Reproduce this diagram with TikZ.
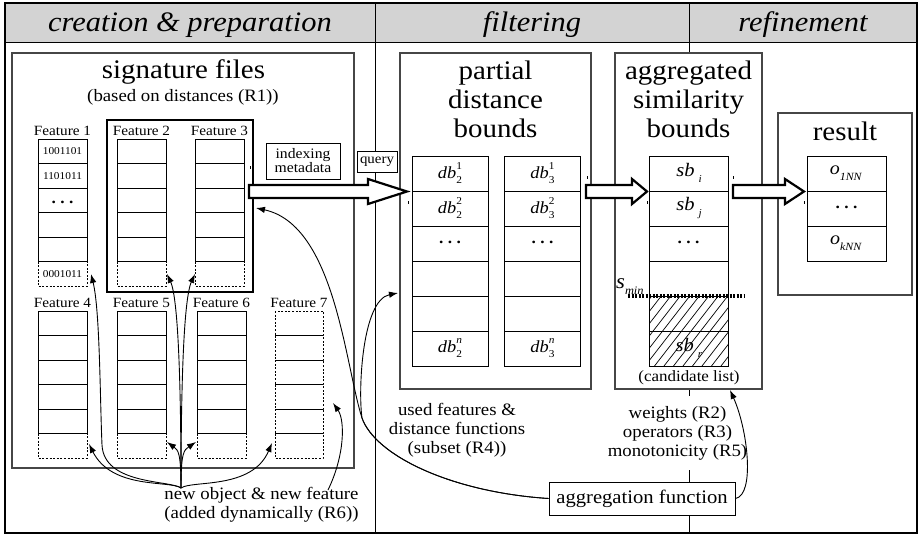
\documentclass[tikz,border=0pt]{standalone}
\usepackage{fontspec}
\setmainfont[FakeStretch=1.08]{Liberation Serif}
\usetikzlibrary{arrows.meta,calc}
\definecolor{hdr}{RGB}{211,211,211}
\definecolor{pline}{RGB}{70,70,70}
\newcommand\fsz[2]{\fontsize{#1}{#2}\selectfont}
\newcommand\dbv[2]{\textit{db}\rlap{\raisebox{0.5em}{\fsz{10.5}{10.5}#2}}\raisebox{-0.3em}{\fsz{10.5}{10.5}#1}}
\newcommand\sbv[1]{\textit{sb}\hspace{4pt}\raisebox{-0.35em}{\fsz{10.5}{10.5}\textit{#1}}}
\newcommand\onn[1]{\textit{o}\raisebox{-0.3em}{\fsz{11}{11}\textit{#1}}}
\newcommand\dotsx{\textbf{.\hspace{0.28em}.\hspace{0.28em}.}}
\begin{document}
\begin{tikzpicture}[x=1pt,y=-1pt,
  thinl/.style={line width=1pt},
  cell/.style={draw,line width=1pt},
  dcell/.style={draw,line width=0.9pt,dash pattern=on 2pt off 1.6pt},
  panel/.style={draw=pline,line width=1.2pt,fill=white,inner sep=0pt,outer sep=0pt},
  hdrtxt/.style={font=\fsz{28.2}{30}\itshape,inner sep=0pt},
  ttl/.style={font=\fsz{26.8}{28.5},inner sep=0pt},
  subt/.style={font=\fsz{17.4}{18},inner sep=0pt},
  flabel/.style={font=\fsz{14.1}{14},inner sep=0pt},
  bits/.style={font=\fsz{10.5}{10},inner sep=0pt},
  dts/.style={font=\fsz{16}{16},inner sep=0pt},
  cval/.style={font=\fsz{17}{17},inner sep=0pt},
  btxt/.style={font=\fsz{17.4}{19},align=center,inner sep=0pt},
  conn/.style={-{Latex[length=9pt,width=6.5pt]},line width=0.9pt},
  hollow/.style={draw,line width=2.2pt,fill=white,line join=miter},
  tick/.style={line width=0.8pt}
]
\useasboundingbox (0,0) rectangle (919,535);
% header and frame
\fill[hdr] (5,3) rectangle (917,43);
\draw[thinl] (375,3) -- (375,533);
\draw[thinl] (689,3) -- (689,533);
\draw[thinl] (5,43) -- (917,43);
\draw[line width=1.2pt] (5,3) rectangle (917,533);
\node[hdrtxt,anchor=base] (hc) at (190,32) {creation \& preparation};
\node[hdrtxt,anchor=base] (hf) at (532,32) {filtering};
\node[hdrtxt,anchor=base] (hr) at (803,32) {refinement};

% signature files panel
\node[panel,minimum width=342,minimum height=415] (sig) at (183,260.5) {};
\node[ttl,anchor=base] (sigt) at (183.5,78) {signature files};
\node[subt,anchor=base] (sigs) at (183,102) {(based on distances (R1))};
\foreach \x/\y/\n in {38/139/1, 117/139/2, 195/139/3, 38/311/4, 117/311/5, 197/311/6} {
  \draw[dcell] (\x,\y+122.5) rectangle ++(49,24.5);
  \foreach \k in {0,...,4} \draw[cell] (\x,\y+\k*24.5) rectangle ++(49,24.5);
  \node[flabel,anchor=base] (f\n) at (\x+24.5,\y-3.5) {Feature \n};
}
\foreach \k in {0,...,5} \draw[dcell] (275,311+\k*24.5) rectangle ++(48,24.5);
\node[flabel,anchor=base] (f7) at (299,307.5) {Feature 7};
\node[bits] (b1) at (62.5,151.5) {1001101};
\node[bits] (b2) at (62.5,176) {1101011};
\node[dts,anchor=base] (b3) at (62.5,203) {\dotsx};
\node[bits] (b4) at (62.5,274) {0001011};
\node[draw,line width=2.6pt,minimum width=146,minimum height=172,inner sep=0pt] (sel) at (180,206) {};
\node[draw,thinl,fill=white,minimum width=74,minimum height=36,inner sep=0pt,align=center,font=\fsz{14.5}{14}] (idx) at (303,161) {indexing\\metadata};
\node[draw,thinl,fill=white,minimum width=40,minimum height=21,inner sep=0pt,font=\fsz{13.8}{13}] (qry) at (377,161.5) {query};

% partial distance bounds
\node[panel,minimum width=191,minimum height=336] (part) at (495.5,221) {};
\node[ttl,anchor=base] (pt1) at (495.5,80) {partial};
\node[ttl,anchor=base] (pt2) at (495.5,108.5) {distance};
\node[ttl,anchor=base] (pt3) at (495.5,137) {bounds};
\foreach \x in {412,504} \foreach \k in {0,...,5} \draw[cell] (\x,156+\k*35) rectangle ++(76.5,35);
\node[cval] (d21) at (450,173) {\dbv{2}{1}};
\node[cval] (d22) at (450,208) {\dbv{2}{2}};
\node[dts,anchor=base] (d2d) at (450,243) {\dotsx};
\node[cval] (d2n) at (450,348) {\dbv{2}{\textit{n}}};
\node[cval] (d31) at (542.5,173) {\dbv{3}{1}};
\node[cval] (d32) at (542.5,208) {\dbv{3}{2}};
\node[dts,anchor=base] (d3d) at (542.5,243) {\dotsx};
\node[cval] (d3n) at (542.5,348) {\dbv{3}{\textit{n}}};

% aggregated similarity bounds
\node[panel,minimum width=147,minimum height=336] (agg) at (688.5,221) {};
\node[ttl,anchor=base] (at1) at (688.5,80) {aggregated};
\node[ttl,anchor=base] (at2) at (688.5,108.5) {similarity};
\node[ttl,anchor=base] (at3) at (688.5,137) {bounds};
\begin{scope}
  \clip (649,296) rectangle (728,366);
  \foreach \i in {-80,-70.5,...,90} \draw[line width=0.7pt] (649+\i,366) -- ++(62,-80);
\end{scope}
\foreach \k in {0,...,5} \draw[cell] (649,156+\k*35) rectangle ++(79,35);
\node[font=\fsz{19}{19},inner sep=0pt] (sbi) at (689,173) {\sbv{i}};
\node[font=\fsz{19}{19},inner sep=0pt] (sbj) at (689,208) {\sbv{j}};
\node[dts,anchor=base] (sbd) at (688.5,243) {\dotsx};
\node[font=\fsz{19}{19},inner sep=0pt] (sbr) at (689,348) {\sbv{r}};
\node[anchor=base west,inner sep=0pt] (smin) at (616,288) {\fsz{21}{21}\textit{s}\raisebox{-0.3em}{\fsz{11.5}{11.5}\textit{min}}};
\draw[line width=3.5pt,dash pattern=on 2.2pt off 1.3pt] (628,296) -- (745,296);
\node[font=\fsz{15.7}{15},anchor=base,inner sep=0pt] (cand) at (689,381) {(candidate list)};

% result
\node[panel,minimum width=134,minimum height=182] (res) at (845,204) {};
\node[ttl,anchor=base] (rt) at (845,140) {result};
\foreach \k in {0,...,2} \draw[cell] (807,156+\k*35) rectangle ++(79,35);
\node[font=\fsz{18.5}{18},inner sep=0pt] (o1) at (846,173) {\onn{1NN}};
\node[dts,anchor=base] (od) at (846.5,208) {\dotsx};
\node[font=\fsz{18.5}{18},inner sep=0pt] (ok) at (846,243) {\onn{kNN}};

% hollow arrows
\draw[hollow] (249,185) -- (368,185) -- (368,179) -- (407,191.5) -- (368,204) -- (368,198) -- (249,198) -- cycle;
\draw[hollow] (586,185) -- (632,185) -- (632,179) -- (647,191.5) -- (632,204) -- (632,198) -- (586,198) -- cycle;
\draw[hollow] (733,185) -- (785,185) -- (785,179) -- (804,191.5) -- (785,204) -- (785,198) -- (733,198) -- cycle;
% tiny ticks
\foreach \tx/\ty in {250/166, 408/201, 587/176, 647/201, 733/176, 804/201}
  \draw[tick] (\tx,\ty) -- ++(0,3);

% bottom texts
\node[btxt] (usedf) at (457,430) {used features \&\\distance functions\\(subset (R4))};
\node[btxt,fill=white,inner ysep=10pt,inner xsep=2pt] (wts) at (677.5,433) {weights (R2)\\operators (R3)\\monotonicity (R5)};
\node[draw,thinl,fill=white,minimum width=186,minimum height=33,inner sep=0pt,font=\fsz{19.1}{18}] (aggf) at (642,498.5) {aggregation function};
\node[btxt] (newt) at (261.5,505) {new object \& new feature\\(added dynamically (R6))};

% connectors
\coordinate (fork) at (362,418);
\coordinate (tsig) at (256,208);
\coordinate (tpart) at (398,293);
\coordinate (taggb) at (730,390);
\draw[conn] (aggf.west) .. controls (450,492) and (375,455) .. (fork) .. controls (345,365) and (335,225) .. (tsig);
\draw[conn] (aggf.west) .. controls (450,492) and (375,455) .. (fork) .. controls (358,390) and (362,300) .. (tpart);
\draw[conn] (aggf.east) .. controls (755,495) and (748,430) .. (taggb);

\coordinate (stem) at (181,488);
\coordinate (nf1) at (91,274);
\coordinate (nf2) at (167,274);
\coordinate (nf3) at (195,274);
\coordinate (nf4) at (89,444);
\coordinate (nf5) at (167,442);
\coordinate (nf6) at (196,442);
\coordinate (nf7) at (272,443);
\coordinate (nf7r) at (333,403);
\coordinate (nr) at (328,490);
\draw[conn] (stem) .. controls (170,480) and (104,485) .. (102,445) .. controls (100,400) and (100,310) .. (nf1);
\draw[conn] (stem) .. controls (181,400) and (179,300) .. (nf2);
\draw[conn] (stem) .. controls (181,400) and (183,300) .. (nf3);
\draw[conn] (stem) .. controls (170,480) and (112,490) .. (nf4);
\draw[conn] (stem) .. controls (181,452) and (178,450) .. (nf5);
\draw[conn] (stem) .. controls (181,452) and (184,450) .. (nf6);
\draw[conn] (stem) .. controls (192,480) and (252,490) .. (nf7);
\draw[conn] (nr) .. controls (345,455) and (345,420) .. (nf7r);
\end{tikzpicture}
\end{document}
